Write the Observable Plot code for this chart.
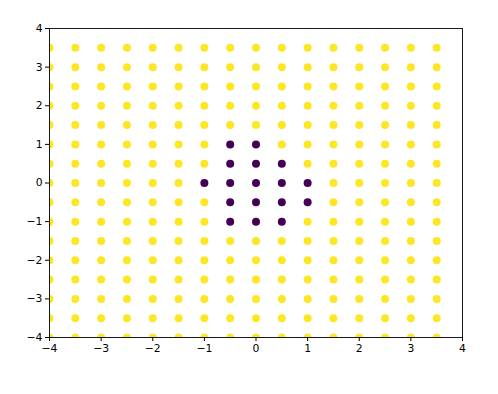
<!DOCTYPE html>
<html>
<head>
<meta charset="utf-8">
<script src="https://cdn.jsdelivr.net/npm/d3@7"></script>
<script src="https://cdn.jsdelivr.net/npm/@observablehq/plot@0.6"></script>
<style>
  html, body { margin: 0; padding: 0; background: #fff; }
  svg { display: block; }
</style>
</head>
<body>
<div id="chart"></div>
<script>
// Grid coordinates
const xValues = [-4, -3.5, -3, -2.5, -2, -1.5, -1, -0.5, 0, 0.5, 1, 1.5, 2, 2.5, 3, 3.5];
const yValues = [3.5, 3, 2.5, 2, 1.5, 1, 0.5, 0, -0.5, -1, -1.5, -2, -2.5, -3, -3.5, -4];
// Class of each grid point (rows follow yValues, columns follow xValues); 0 = purple, 1 = yellow
const classes = [
  [1,1,1,1,1,1,1,1,1,1,1,1,1,1,1,1],
  [1,1,1,1,1,1,1,1,1,1,1,1,1,1,1,1],
  [1,1,1,1,1,1,1,1,1,1,1,1,1,1,1,1],
  [1,1,1,1,1,1,1,1,1,1,1,1,1,1,1,1],
  [1,1,1,1,1,1,1,1,1,1,1,1,1,1,1,1],
  [1,1,1,1,1,1,1,0,0,1,1,1,1,1,1,1],
  [1,1,1,1,1,1,1,0,0,0,1,1,1,1,1,1],
  [1,1,1,1,1,1,0,0,0,0,0,1,1,1,1,1],
  [1,1,1,1,1,1,1,0,0,0,0,1,1,1,1,1],
  [1,1,1,1,1,1,1,0,0,0,1,1,1,1,1,1],
  [1,1,1,1,1,1,1,1,1,1,1,1,1,1,1,1],
  [1,1,1,1,1,1,1,1,1,1,1,1,1,1,1,1],
  [1,1,1,1,1,1,1,1,1,1,1,1,1,1,1,1],
  [1,1,1,1,1,1,1,1,1,1,1,1,1,1,1,1],
  [1,1,1,1,1,1,1,1,1,1,1,1,1,1,1,1],
  [1,1,1,1,1,1,1,1,1,1,1,1,1,1,1,1]
];
const tickValues = [-4, -3, -2, -1, 0, 1, 2, 3, 4];
const classColors = ["#440154", "#fde725"];

const points = [];
yValues.forEach((y, i) => xValues.forEach((x, j) => points.push({x, y, c: classes[i][j]})));

const fmt = d => (d < 0 ? "\u2212" + Math.abs(d) : String(d));

const chart = Plot.plot({
  width: 498,
  height: 394,
  marginLeft: 49,
  marginRight: 36,
  marginTop: 28,
  marginBottom: 57,
  style: {fontFamily: "DejaVu Sans", fontSize: "10.8px", color: "#000", background: "#fff"},
  x: {domain: [-4, 4], ticks: tickValues, tickFormat: fmt, tickSize: 4, tickPadding: 3, label: null},
  y: {domain: [-4, 4], ticks: tickValues, tickFormat: fmt, tickSize: 4, tickPadding: 3, label: null},
  color: {type: "ordinal", domain: [0, 1], range: classColors},
  marks: [
    Plot.dot(points, {x: "x", y: "y", fill: "c", r: 4, clip: true}),
    Plot.frame({stroke: "#000", strokeWidth: 0.9, strokeOpacity: 1})
  ]
});
document.getElementById("chart").appendChild(chart);
</script>
</body>
</html>
